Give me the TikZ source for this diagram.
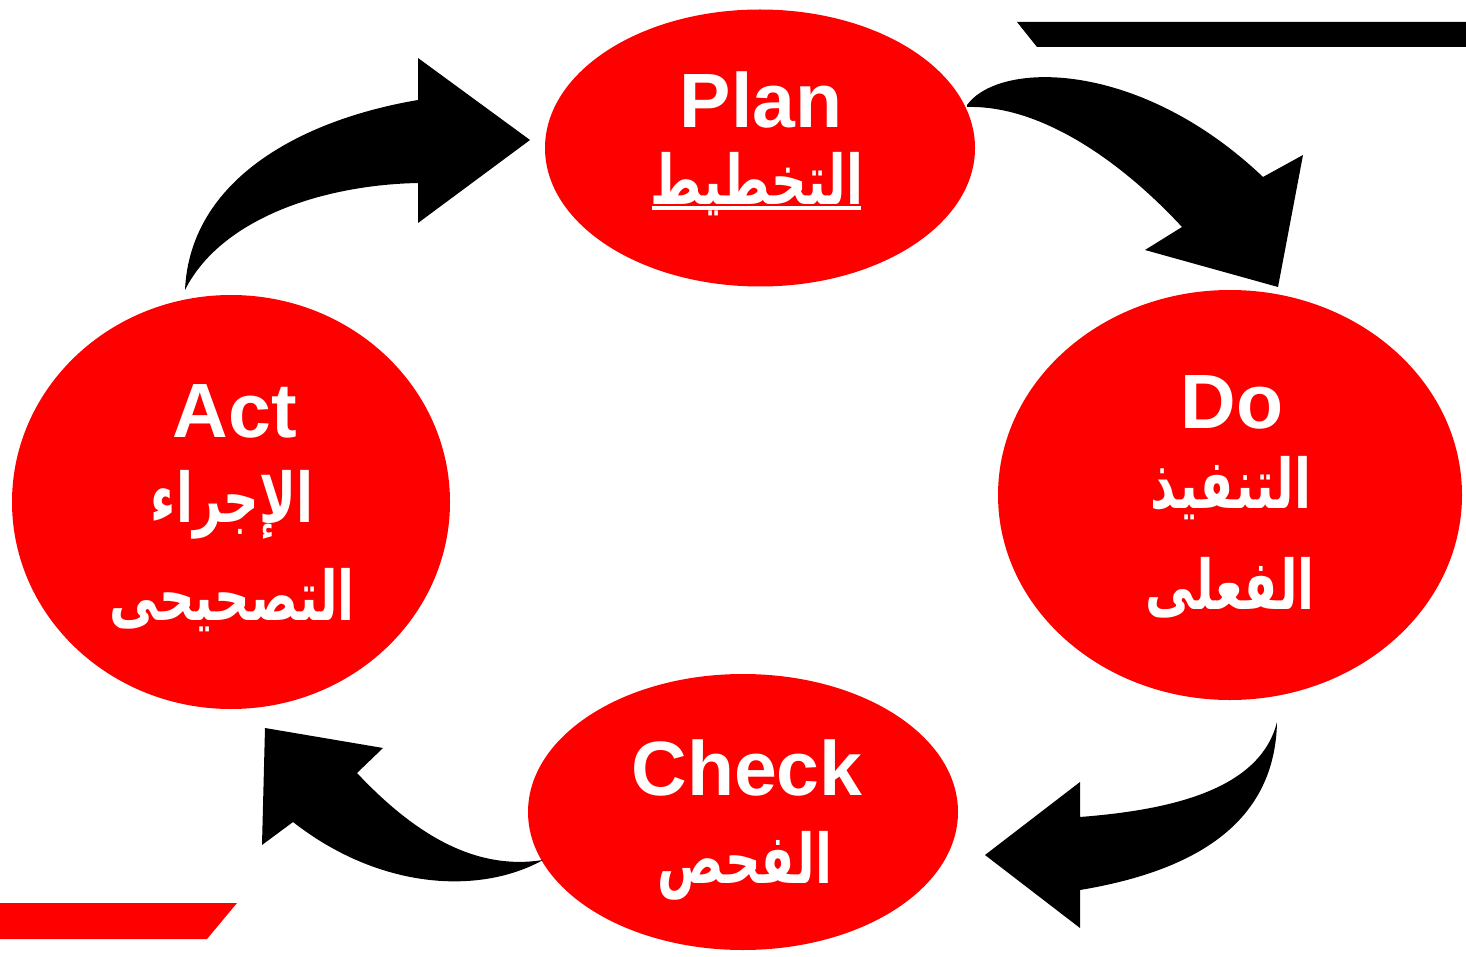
\documentclass[tikz,border=0pt]{standalone}
\usepackage{fontspec}
\usepackage{graphicx}
\setmainfont{Liberation Sans}
\newfontfamily\arabicfont[Script=Arabic]{DejaVu Sans}
\TeXXeTstate=1
\definecolor{cyclered}{RGB}{255,0,0}
\newcommand{\arabtall}[1]{\scalebox{0.95}[1.32]{#1}}
\begin{document}
\begin{tikzpicture}[x=1pt,y=-1pt,
  phase/.style={ellipse, fill=cyclered, draw=none, inner sep=0pt},
  lat/.style={text=white, anchor=base, font=\fontsize{77}{80}\selectfont\bfseries},
  arab/.style={text=white, anchor=center, font=\fontsize{52}{60}\selectfont\arabicfont\bfseries},
  blockarrow/.style={fill=black, draw=none}]
\usetikzlibrary{shapes.geometric}
\useasboundingbox (0,0) rectangle (1466,957);
% bars
\fill[black] (1017,22) -- (1466,22) -- (1466,47) -- (1037,47) -- cycle;
\fill[cyclered] (0,903) -- (237,903) -- (207,939) -- (0,939) -- cycle;
% ellipses
\node[phase, minimum width=430pt, minimum height=277pt] (plan) at (760,148) {};
\node[phase, minimum width=464pt, minimum height=410pt] (do) at (1230,495) {};
\node[phase, minimum width=438pt, minimum height=414pt] (act) at (231,502) {};
\node[phase, minimum width=430pt, minimum height=276pt] (check) at (743,812) {};
% texts
\node[lat] (planT) at (761,128) {Plan};
\node[arab] (planA) at (757,184) {\arabtall{\beginR التخطيط\endR}};
\draw[white, line width=4pt] ([xshift=5pt,yshift=-24pt]planA.west) coordinate (ulA) -- ([xshift=-6pt,yshift=-24pt]planA.east) coordinate (ulB);
\node[arab] (doA1) at (1231,488) {\arabtall{\beginR التنفيذ\endR}};
\node[lat] (doT) at (1232,428) {Do};
\node[arab] (doA2) at (1230,588) {\arabtall{\beginR الفعلى\endR}};
\node[lat] (actT) at (235,437) {Act};
\node[arab] (actA1) at (232,505) {\arabtall{\beginR الإجراء\endR}};
\node[arab] (actA2) at (232,600) {\arabtall{\beginR التصحيحى\endR}};
\node[lat] (checkT) at (747,795) {Check};
\node[arab] (checkA) at (745,866) {\arabtall{\beginR الفحص\endR}};
% arrows
\fill[blockarrow] (967,105) .. controls (1000,60) and (1140,60) .. (1263,177)
  -- (1303,155) -- (1278,287) -- (1145,250) -- (1182,227)
  .. controls (1120,160) and (1040,105) .. (967,107) -- cycle;
\fill[blockarrow] (1277,722) .. controls (1260,790) and (1170,810) .. (1080,817)
  -- (1080,782) -- (985,855) -- (1080,928) -- (1080,890)
  .. controls (1200,870) and (1275,820) .. (1277,722) -- cycle;
\fill[blockarrow] (543,860) .. controls (480,895) and (380,890) .. (293,822)
  -- (262,845) -- (265,728) -- (383,748) -- (357,773)
  .. controls (420,840) and (480,870) .. (543,860) -- cycle;
\fill[blockarrow] (185,290) .. controls (190,180) and (300,120) .. (418,100)
  -- (418,58) -- (530,140) -- (418,223) -- (418,183)
  .. controls (320,185) and (220,220) .. (185,290) -- cycle;
\end{tikzpicture}
\end{document}
